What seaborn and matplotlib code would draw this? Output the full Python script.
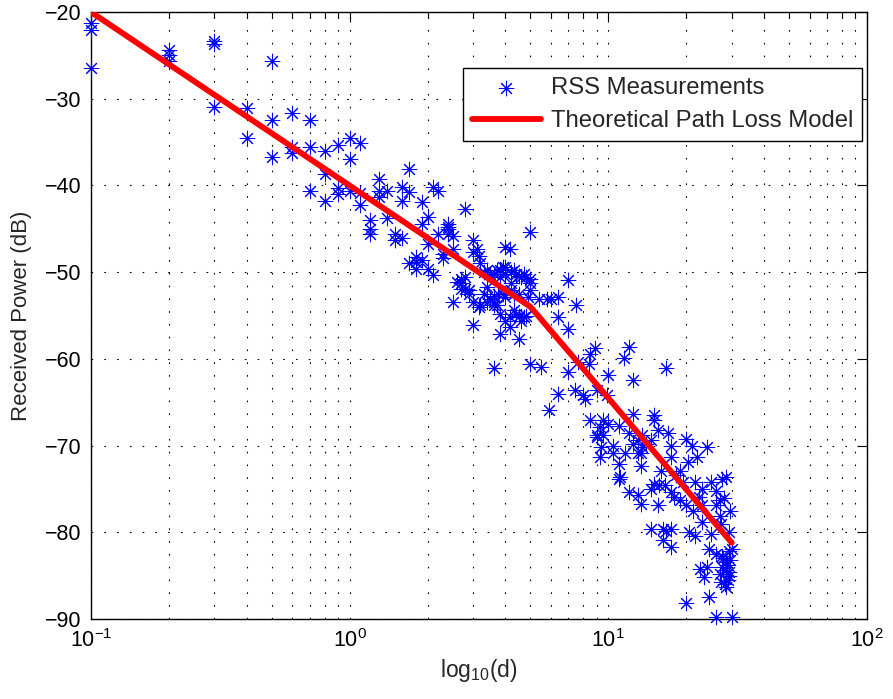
import numpy as np
import pandas as pd
import matplotlib
matplotlib.use("Agg")
import matplotlib.pyplot as plt
import seaborn as sns
from matplotlib.ticker import LogLocator, NullFormatter

# ---------------- data ----------------
# RSS measurements, near field (d <= 1.1 m)
d_near = [0.1, 0.1, 0.1, 0.2, 0.2, 0.2, 0.3, 0.3, 0.3, 0.4, 0.4,
          0.5, 0.5, 0.5, 0.6, 0.6, 0.6, 0.7, 0.7, 0.7, 0.8, 0.8, 0.8,
          0.9, 0.9, 0.9, 1.0, 1.0, 1.0, 1.1, 1.1, 1.1]
rss_near = [-21.3, -22.1, -26.5, -24.4, -25.0, -25.6, -23.3, -23.7, -31.0, -31.1, -34.5,
            -25.6, -32.4, -36.7, -31.7, -35.6, -36.3, -32.5, -35.6, -40.6, -36.0, -38.7, -41.8,
            -35.3, -40.3, -41.0, -34.5, -36.9, -40.6, -35.1, -40.9, -42.3]

# RSS measurements, mid range (1.2 m .. 5 m)
d_mid = [1.2, 1.2, 1.2, 1.3, 1.3, 1.3, 1.4, 1.4, 1.5, 1.5, 1.6, 1.6, 1.6,
         1.7, 1.7, 1.7, 1.8, 1.8, 1.8, 1.9, 1.9, 1.9, 2.0, 2.0, 2.0, 2.1, 2.1,
         2.2, 2.2, 2.3, 2.3, 2.4, 2.4, 2.4, 2.4, 2.5, 2.5, 2.5, 2.6,
         2.7, 2.7, 2.7, 2.8, 2.8, 2.8, 2.9, 2.9, 3.0, 3.0, 3.0, 3.0, 3.1,
         3.15, 3.15, 3.2, 3.2, 3.3, 3.3, 3.4, 3.4, 3.4, 3.5, 3.5,
         3.6, 3.6, 3.6, 3.6, 3.6, 3.7, 3.7, 3.75, 3.8, 3.8, 3.8, 3.8,
         3.9, 3.9, 4.0, 4.0, 4.0, 4.0, 4.0, 4.15, 4.15, 4.15, 4.2, 4.2, 4.2,
         4.3, 4.3, 4.3, 4.4, 4.4, 4.5, 4.5, 4.5, 4.5, 4.6, 4.6, 4.7, 4.7,
         4.8, 4.8, 4.9, 5.0, 5.0, 5.0, 5.0, 5.0]
rss_mid = [-44.0, -45.0, -45.6, -39.3, -40.6, -41.3, -40.6, -43.8, -45.6, -46.3, -46.1, -40.2, -41.8,
           -38.1, -40.7, -49.0, -48.8, -49.6, -48.3, -41.9, -44.4, -48.6, -43.6, -46.7, -49.6, -40.2, -50.3,
           -40.6, -45.6, -47.9, -48.4, -44.4, -45.0, -45.6, -44.8, -45.8, -47.3, -53.4, -51.1,
           -51.3, -50.8, -51.9, -42.7, -50.6, -51.9, -52.5, -52.1, -46.3, -47.7, -53.4, -56.1, -47.3,
           -48.1, -54.0, -49.0, -53.8, -52.5, -50.0, -53.4, -51.7, -49.8, -50.2, -53.1,
           -52.7, -53.4, -50.2, -53.8, -61.1, -49.8, -53.8, -52.5, -50.6, -54.8, -57.1, -49.8,
           -49.4, -52.5, -47.1, -50.2, -52.9, -55.6, -49.4, -47.3, -56.3, -55.2, -50.0, -51.3, -52.1,
           -52.5, -54.4, -49.8, -50.2, -54.8, -57.7, -52.5, -55.0, -50.4, -50.6, -55.6, -50.2, -55.2,
           -50.6, -55.0, -52.9, -51.3, -45.4, -52.1, -50.8, -60.6]

# RSS measurements, far field (d > 5 m)
d_far = [5.4, 5.5, 5.8, 5.9, 6.0, 6.4, 6.4, 6.4, 7.0, 7.0, 7.0, 7.4, 7.5, 7.6,
         8.0, 8.1, 8.4, 8.5, 8.5, 8.9, 9.0, 9.0, 9.0, 9.3, 9.3, 9.4, 9.5, 9.5, 9.9,
         10.0, 10.0, 10.4, 10.4, 11.0, 11.0, 11.0, 11.1, 11.5, 11.6, 12.0, 12.0, 12.0,
         12.5, 12.5, 12.5, 13.0, 13.0, 13.0, 13.4, 13.4, 13.4, 13.5, 13.5, 14.0,
         14.6, 14.6, 14.6, 15.0, 15.0, 15.0, 15.5, 15.6, 15.7, 16.0, 16.3, 16.3, 16.6,
         16.7, 16.7, 17.0, 17.4, 17.5, 17.5, 17.5, 17.5, 18.0, 18.3, 19.0, 19.0, 19.5,
         20.0, 20.0, 20.0, 20.3, 20.5, 21.0, 21.3, 21.6, 21.6, 22.0, 22.5, 22.6,
         23.0, 23.0, 23.0, 23.5, 24.0, 24.0, 24.5, 24.5, 25.0, 25.0,
         26.0, 26.0, 26.0, 26.0, 27.0, 27.0, 27.0, 27.2, 27.2, 27.5, 27.5, 27.6, 27.8,
         28.0, 28.2, 28.5, 28.5, 28.5, 28.5, 28.8, 29.0, 29.2, 29.4, 29.4, 29.4, 29.5,
         29.6, 30.0, 30.0]
rss_far = [-53.1, -60.9, -53.1, -65.9, -53.1, -52.9, -55.2, -64.1, -50.9, -56.5, -61.5, -63.6, -53.8, -60.4,
           -64.2, -64.6, -60.6, -59.4, -67.0, -58.8, -63.6, -68.8, -69.0, -67.9, -71.3, -70.2, -68.8, -67.1, -64.2,
           -61.9, -67.5, -70.0, -70.9, -67.7, -72.1, -73.8, -73.6, -59.9, -70.8, -58.6, -68.6, -75.4,
           -62.4, -66.4, -69.8, -69.4, -70.8, -75.7, -70.8, -72.3, -76.7, -68.8, -70.2, -69.8,
           -69.4, -75.0, -79.6, -66.5, -67.1, -74.4, -68.2, -76.9, -74.6, -72.9, -79.6, -80.9, -74.6,
           -61.1, -79.8, -68.6, -71.3, -70.0, -75.4, -79.6, -81.7, -75.9, -73.4, -72.9, -76.3, -74.2,
           -69.2, -76.9, -88.2, -71.9, -80.0, -70.0, -77.5, -74.2, -80.4, -71.3, -75.9, -84.2,
           -75.0, -76.9, -78.8, -85.2, -70.2, -84.0, -81.9, -87.5, -74.2, -80.2,
           -75.2, -76.9, -82.5, -89.8, -76.3, -78.1, -84.8, -79.0, -85.7, -73.8, -82.7, -84.0, -83.0,
           -76.1, -86.0, -73.6, -83.4, -84.4, -86.3, -83.8, -85.5, -85.0, -80.0, -82.1, -84.6, -77.5,
           -83.2, -81.9, -89.8]

# Theoretical path loss model (breakpoints of the dual-slope model)
d_model = [0.1, 5.0, 30.0]
rss_model = [-20.0, -54.0, -81.2]

x_ticks = [0.1, 1, 10, 100]
y_ticks = [-90, -80, -70, -60, -50, -40, -30, -20]

# ---------------- style ----------------
sns.set_style("white")
plt.rcParams["font.family"] = ["Liberation Sans", "DejaVu Sans"]
plt.rcParams["mathtext.default"] = "regular"
plt.rcParams["lines.scale_dashes"] = False

meas = pd.DataFrame({"d": d_near + d_mid + d_far,
                     "rss": rss_near + rss_mid + rss_far})
model = pd.DataFrame({"d": d_model, "rss": rss_model})

fig = plt.figure(figsize=(8.93, 6.99), dpi=100)
ax = fig.add_axes([0.1019, 0.1144, 0.869, 0.8684])

sns.scatterplot(data=meas, x="d", y="rss", ax=ax, marker=(8, 2, 0), s=110,
                color=(0, 0, 1), linewidth=0.75, label="RSS Measurements",
                zorder=3, clip_on=False)
sns.lineplot(data=model, x="d", y="rss", ax=ax, color=(1, 0, 0), linewidth=4.2,
             label="Theoretical Path Loss Model", zorder=4)

ax.set_xscale("log")
ax.set_xlim(0.1, 100)
ax.set_ylim(-90, -20)
ax.set_xticks(x_ticks)
ax.set_yticks(y_ticks)
ax.xaxis.set_minor_locator(LogLocator(base=10, subs=np.arange(2, 10)))
ax.xaxis.set_minor_formatter(NullFormatter())

grid_kw = dict(color="black", linestyle=(0, (1.2, 8)), linewidth=0.8)
ax.grid(True, which="major", axis="both", **grid_kw)
ax.grid(True, which="minor", axis="x", **grid_kw)
ax.set_axisbelow(True)

ax.tick_params(axis="both", which="both", direction="in", top=True, right=True,
               labelsize=15.5, colors="black", width=0.8)
ax.tick_params(axis="both", which="major", length=7, pad=7)
ax.tick_params(axis="x", which="minor", length=4)

for sp in ax.spines.values():
    sp.set_color("black")
    sp.set_linewidth(1.0)

ax.set_xlabel("log$_{10}$(d)", fontsize=16.5, labelpad=4)
ax.set_ylabel("Received Power (dB)", fontsize=16, labelpad=9)

leg = ax.legend(loc="upper right", bbox_to_anchor=(0.9936, 0.9077), borderaxespad=0,
                fontsize=17.2, frameon=True, fancybox=False, framealpha=1,
                edgecolor="black", handlelength=2.9, handletextpad=0.4,
                borderpad=0.38, labelspacing=0.45, scatterpoints=1)
leg.get_frame().set_linewidth(1.0)

fig.savefig("out.png", dpi=100, facecolor="white")
